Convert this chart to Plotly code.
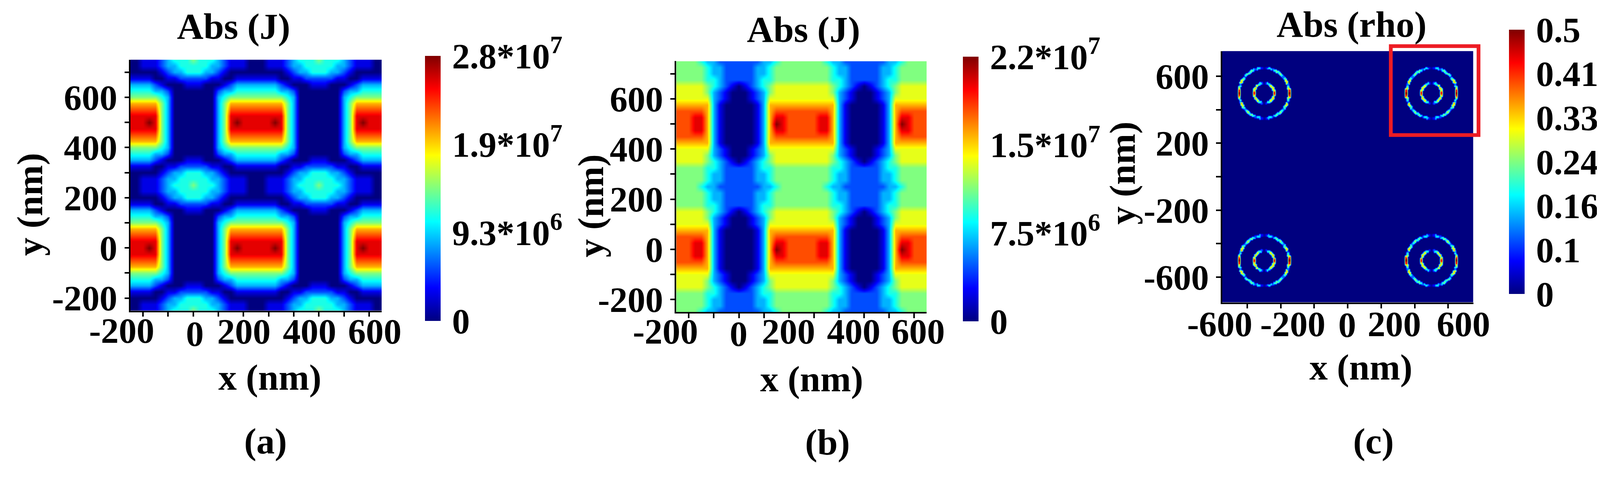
import numpy as np
import plotly.graph_objects as go

# The photographed page comes out slightly zoomed (about 1.042 screen px per page px)
# and the html body keeps its default 8 px margin, so every position below is given
# in screen pixels of the target picture and converted with fx / fy / sz.
SCREEN_W, SCREEN_H = 4273, 1251
ZOOM = 1.042
PAGE_OFF = 8
W = round(SCREEN_W / ZOOM) - PAGE_OFF
H = round(SCREEN_H / ZOOM) - PAGE_OFF
SERIF = "Liberation Serif"

# ---------------- panels (a) and (b): |J| maps ----------------
# grid: x and y from -250 to 750 nm in 25 nm steps (41 x 41)
X_AB = list(range(-250, 751, 25))
Y_AB = list(range(-250, 751, 25))

# one character per cell: digit = tenths of full scale, "X" = full scale
A0 = "999X9530000000359X99999X9530000000359X999"
A1 = "99999530000000359999999995300000003599999"
A2 = "88888530000000358888888885300000003588888"
A3 = "77777530000000357777777775300000003577777"
A4 = "55555430000000345555555554300000003455555"
A5 = "44443320000000233444444433200000002334444"
A6 = "33332100011100012333333321000111000123333"
A7 = "11110011222221100111111100112222211001111"
A8 = "00000123344433210000000001233444332100000"
A9 = "00111233444443321110001112334444433211100"
A10 = "00111234445444321110001112344454443211100"

# rows from y=-250 (bottom) to y=750 (top)
ROWS_A = [A10, A9, A8, A7, A6, A5, A4, A3, A2, A1,
          A0,
          A1, A2, A3, A4, A5, A6, A7, A8, A9, A10,
          A9, A8, A7, A6, A5, A4, A3, A2, A1,
          A0,
          A1, A2, A3, A4, A5, A6, A7, A8, A9, A10]

B0 = "8889973100000137X9888889973100000137X9888"
B1 = "88899731000001379988888997310000013799888"
B2 = "88888731000001378888888887310000013788888"
B3 = "77777731000001377777777777310000013777777"
B4 = "66666632100012366666666666321000123666666"
B5 = "66666532100012356666666665321000123566666"
B6 = "66666543210123456666666665432101234566666"
B7 = "55555443222223445555555554432222234455555"
B8 = "55555433222223345555555554332222233455555"
B9 = "55555433222223345555555554332222233455555"
B10 = "55554332222222334555555543322222223345555"

ROWS_B = [B10, B9, B8, B7, B6, B5, B4, B3, B2, B1,
          B0,
          B1, B2, B3, B4, B5, B6, B7, B8, B9, B10,
          B9, B8, B7, B6, B5, B4, B3, B2, B1,
          B0,
          B1, B2, B3, B4, B5, B6, B7, B8, B9, B10]

ZMAX_A = 2.8e7
ZMAX_B = 2.25e7
CB_TEXT_A = ["0", "9.3*10<sup>6</sup>", "1.9*10<sup>7</sup>", "2.8*10<sup>7</sup>"]
CB_TEXT_B = ["0", "7.5*10<sup>6</sup>", "1.5*10<sup>7</sup>", "2.2*10<sup>7</sup>"]

# ---------------- panel (c): |rho| rings ----------------
RING_CX = [-500, 500]
RING_CY = [-500, 500]
OUTER_R = 150
INNER_R = 60
RING_HALF = 8
ANGLES = [0, 5, 10, 15, 20, 25, 30, 35, 40, 45, 50, 55, 60, 65, 70, 75, 80, 85, 90]
OUTER_VALS = [0.50, 0.44, 0.30, 0.22, 0.12, 0.34, 0.30, 0.22, 0.12, 0.20,
              0.26, 0.19, 0.24, 0.18, 0.10, 0.18, 0.17, 0.06, 0.02]
INNER_VALS = [0.45, 0.42, 0.36, 0.30, 0.26, 0.32, 0.36, 0.30, 0.25, 0.30,
              0.33, 0.24, 0.18, 0.20, 0.20, 0.12, 0.08, 0.02, 0.00]
ZMAX_C = 0.5
CB_TEXT_C = ["0", "0.1", "0.16", "0.24", "0.33", "0.41", "0.5"]

# x tick labels as they sit in the picture (text, centre x px, centre y px)
XLAB_A = [("-200", 325, 882), ("0", 520, 890), ("200", 651, 884), ("400", 826, 884), ("600", 1000, 884)]
XLAB_B = [("-200", 1775, 884), ("0", 1970, 890), ("200", 2103, 884), ("400", 2277, 884), ("600", 2449, 884)]
XLAB_C = [("-600", 3254, 864), ("-200", 3448, 864), ("0", 3594, 866), ("200", 3719, 864), ("600", 3904, 864)]

JET = [[0, "#00007f"], [0.125, "#0000ff"], [0.375, "#00ffff"],
       [0.625, "#ffff00"], [0.875, "#ff0000"], [1, "#7f0000"]]


def fx(px):
    return (px / ZOOM - PAGE_OFF) / W


def fy(px):
    return 1 - (px / ZOOM - PAGE_OFF) / H


def sz(v):
    return v / ZOOM


def decode(rows, zmax):
    for r in rows:
        assert len(r) == 41, r
    return [[(10 if ch == "X" else int(ch)) / 10 * zmax for ch in r] for r in rows]


# raster of the rings for the heatmap
X_C = np.arange(-750, 750.01, 7.5)
Y_C = np.arange(-750, 750.01, 7.5)
xx, yy = np.meshgrid(X_C, Y_C)
z_c = np.zeros_like(xx)
step = ANGLES[1] - ANGLES[0]
for cx in RING_CX:
    for cy in RING_CY:
        ddx = xx - cx
        ddy = yy - cy
        dist = np.hypot(ddx, ddy)
        ang = np.degrees(np.arctan2(np.abs(ddy), np.abs(ddx)))
        idx = np.rint(ang / step).astype(int)
        for radius, vals in ((OUTER_R, OUTER_VALS), (INNER_R, INNER_VALS)):
            on = np.abs(dist - radius) <= RING_HALF
            z_c = np.where(on, np.asarray(vals)[idx], z_c)


def font(size):
    return dict(family=SERIF, size=sz(size), color="black", weight="bold")


def colorbar(x_px, top_px, bot_px, vals, text):
    return dict(
        x=fx(x_px), xanchor="left",
        y=fy((top_px + bot_px) / 2), yanchor="middle",
        len=sz(bot_px - top_px) / H, lenmode="fraction",
        thickness=sz(42), thicknessmode="pixels",
        xpad=0, ypad=0, outlinewidth=0,
        tickvals=vals, ticktext=text,
        ticks="outside", ticklen=sz(12), tickcolor="rgba(0,0,0,0)",
        tickfont=font(95),
    )


fig = go.Figure()
fig.add_trace(go.Heatmap(
    x=X_AB, y=Y_AB, z=decode(ROWS_A, ZMAX_A), colorscale=JET, zmin=0, zmax=ZMAX_A,
    zsmooth="best", xaxis="x", yaxis="y",
    colorbar=colorbar(1134, 149, 855, [0, ZMAX_A / 3, 2 * ZMAX_A / 3, ZMAX_A], CB_TEXT_A),
))
fig.add_trace(go.Heatmap(
    x=X_AB, y=Y_AB, z=decode(ROWS_B, ZMAX_B), colorscale=JET, zmin=0, zmax=ZMAX_B,
    zsmooth="best", xaxis="x2", yaxis="y2",
    colorbar=colorbar(2569, 151, 856, [0, ZMAX_B / 3, 2 * ZMAX_B / 3, ZMAX_B], CB_TEXT_B),
))
fig.add_trace(go.Heatmap(
    x=X_C, y=Y_C, z=z_c, colorscale=JET, zmin=0, zmax=ZMAX_C,
    zsmooth="best", xaxis="x3", yaxis="y3",
    colorbar=colorbar(4025, 79, 783, [ZMAX_C * k / 6 for k in range(7)], CB_TEXT_C),
))

ax_style = dict(
    showgrid=False, zeroline=False, showline=True, linecolor="black", linewidth=sz(4),
    ticks="outside", ticklen=sz(12), tickwidth=sz(4), tickcolor="black",
    tickfont=font(95), tickangle=0,
)

ticks_ab = list(range(-200, 701, 100))
text_ab = [str(v) if v % 200 == 0 else "" for v in ticks_ab]
ticks_c = list(range(-600, 601, 200))
text_cy = [str(v) if v in (-600, -200, 200, 600) else "" for v in ticks_c]
blank_ab = [""] * len(ticks_ab)
blank_c = [""] * len(ticks_c)

fig.update_layout(
    width=W, height=H, margin=dict(l=0, r=0, t=0, b=0, autoexpand=False),
    paper_bgcolor="white", plot_bgcolor="white", showlegend=False,
    xaxis=dict(domain=[fx(348), fx(1018)], range=[-250, 750], anchor="y",
               tickvals=ticks_ab, ticktext=blank_ab, **ax_style),
    yaxis=dict(domain=[fy(828), fy(159)], range=[-250, 750], anchor="x",
               tickvals=ticks_ab, ticktext=text_ab, **ax_style),
    xaxis2=dict(domain=[fx(1804), fx(2472)], range=[-250, 750], anchor="y2",
                tickvals=ticks_ab, ticktext=blank_ab, **ax_style),
    yaxis2=dict(domain=[fy(832), fy(163)], range=[-250, 750], anchor="x2",
                tickvals=ticks_ab, ticktext=text_ab, **ax_style),
    xaxis3=dict(domain=[fx(3260), fx(3930)], range=[-750, 750], anchor="y3",
                tickvals=ticks_c, ticktext=blank_c, **ax_style),
    yaxis3=dict(domain=[fy(806), fy(136)], range=[-750, 750], anchor="x3",
                tickvals=ticks_c, ticktext=text_cy, **ax_style),
)

# x tick labels (spread apart like the original, so they do not collide)
for text, px, py in XLAB_A + XLAB_B + XLAB_C:
    fig.add_annotation(text=text, x=fx(px), y=fy(py), xref="paper", yref="paper",
                       xanchor="center", yanchor="middle", showarrow=False, font=font(95))

# titles, axis titles and panel letters
labels = [
    ("Abs (J)", 623, 70, 0), ("Abs (J)", 2143, 78, 0), ("Abs (rho)", 3605, 65, 0),
    ("x (nm)", 720, 1006, 0), ("x (nm)", 2165, 1010, 0), ("x (nm)", 3630, 978, 0),
    ("y (nm)", 79, 545, -90), ("y (nm)", 1575, 549, -90), ("y (nm)", 2994, 461, -90),
    ("(a)", 709, 1175, 0), ("(b)", 2207, 1179, 0), ("(c)", 3664, 1175, 0),
]
for text, px, py, rot in labels:
    fig.add_annotation(text=text, x=fx(px), y=fy(py), xref="paper", yref="paper",
                       xanchor="center", yanchor="middle", showarrow=False,
                       textangle=rot, font=font(98))

# red box around the upper-right ring pair in (c)
fig.add_shape(type="rect", xref="paper", yref="paper",
              x0=fx(3710), x1=fx(3944), y0=fy(360), y1=fy(123),
              line=dict(color="#ed1c24", width=sz(10)))

fig.write_html("out.html")
